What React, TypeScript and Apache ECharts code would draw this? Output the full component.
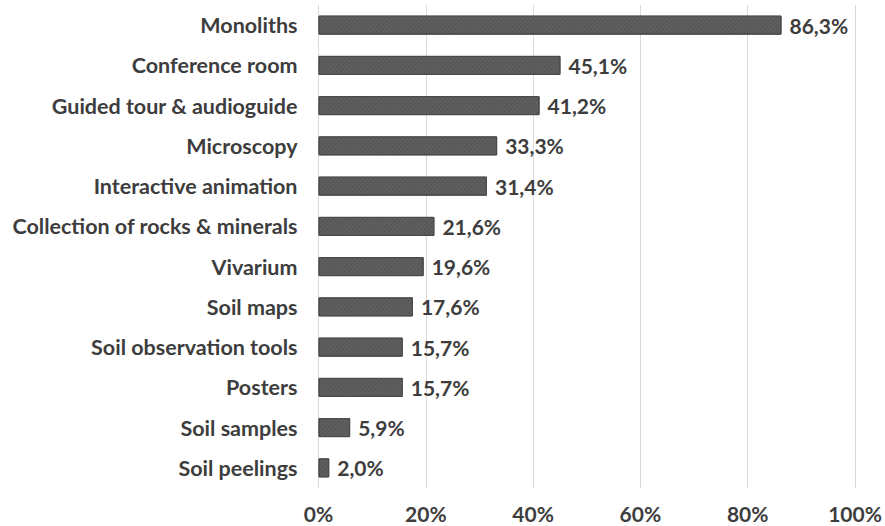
import React, { useEffect, useRef } from "react";
import * as echarts from "echarts";

const categories = [
  "Monoliths",
  "Conference room",
  "Guided tour & audioguide",
  "Microscopy",
  "Interactive animation",
  "Collection of rocks & minerals",
  "Vivarium",
  "Soil maps",
  "Soil observation tools",
  "Posters",
  "Soil samples",
  "Soil peelings",
];
const values = [86.3, 45.1, 41.2, 33.3, 31.4, 21.6, 19.6, 17.6, 15.7, 15.7, 5.9, 2.0];
const xTicks = [0, 20, 40, 60, 80, 100];

export default function App() {
  const ref = useRef<HTMLDivElement>(null);
  useEffect(() => {
    if (!ref.current) return;
    const chart = echarts.init(ref.current, undefined, { renderer: "svg" });
    const font = "Lato, 'Open Sans', sans-serif";
    const textColor = "#3d3d3d";
    chart.setOption({
      animation: false,
      grid: { left: 318.5, right: 30, top: 5, bottom: 38, containLabel: false },
      xAxis: {
        type: "value",
        min: xTicks[0],
        max: xTicks[xTicks.length - 1],
        interval: 20,
        axisLine: { show: false },
        axisTick: { show: false },
        splitLine: { show: true, lineStyle: { color: "#dadada", width: 1 } },
        axisLabel: {
          formatter: (v: number) => v + "%",
          color: textColor,
          fontFamily: font,
          fontWeight: "bold",
          fontSize: 21,
          margin: 15,
        },
      },
      yAxis: {
        type: "category",
        inverse: true,
        data: categories,
        axisLine: { show: false },
        axisTick: { show: false },
        axisLabel: {
          color: textColor,
          fontFamily: font,
          fontWeight: "bold",
          fontSize: 21.5,
          margin: 21,
        },
      },
      series: [
        {
          type: "bar",
          data: values,
          barWidth: 19,
          itemStyle: {
            color: "#606060",
            borderColor: "#4a4a4a",
            borderWidth: 1,
            decal: {
              symbol: "rect",
              dashArrayX: [1, 0],
              dashArrayY: [1, 2],
              rotation: -Math.PI / 4,
              color: "rgba(50,50,50,0.3)",
            },
          },
          label: {
            show: true,
            position: "right",
            distance: 8,
            formatter: (p: any) => p.value.toFixed(1).replace(".", ",") + "%",
            color: textColor,
            fontFamily: font,
            fontWeight: "bold",
            fontSize: 21,
          },
        },
      ],
    });
    return () => chart.dispose();
  }, []);
  return (
    <div
      ref={ref}
      style={{ position: "absolute", left: 0, top: 0, width: 885, height: 526 }}
    />
  );
}
